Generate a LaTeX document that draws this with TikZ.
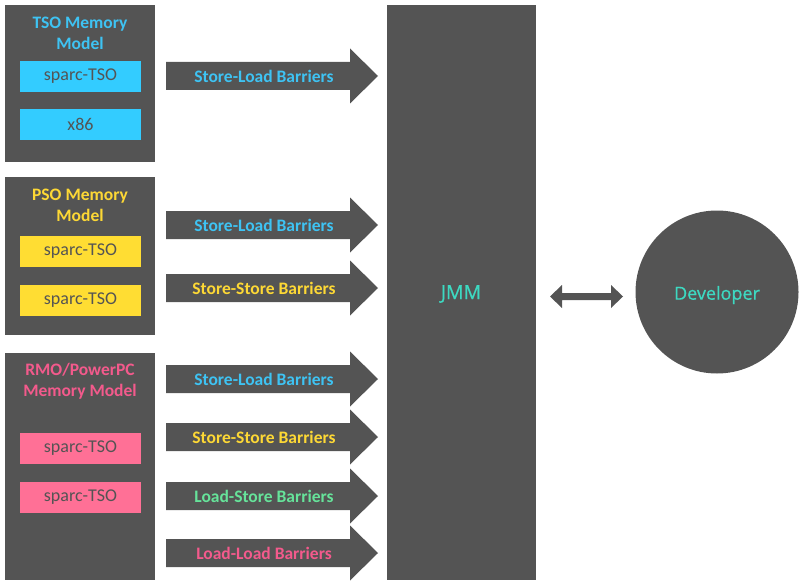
\documentclass[tikz,border=0pt]{standalone}
\usepackage{fontspec}
\usetikzlibrary{calc}
\setmainfont{Carlito}
\newfontfamily\devfont[FakeBold=0.7]{Open Sans}
\definecolor{dg}{HTML}{545454}
\definecolor{cyf}{HTML}{33CCFF}
\definecolor{cyt}{HTML}{3EC3F3}
\definecolor{yef}{HTML}{FFDD33}
\definecolor{yet}{HTML}{FDD835}
\definecolor{pif}{HTML}{FF7096}
\definecolor{pit}{HTML}{F35A8C}
\definecolor{grt}{HTML}{66E39A}
\definecolor{tlt}{HTML}{3DD9C1}
\tikzset{
  panel/.style={fill=dg,draw=none},
  chip/.style={minimum width=121pt,minimum height=31pt,inner sep=0pt,text=dg,font=\fontsize{18}{20}\selectfont},
  ttl/.style={align=center,font=\fontsize{17.5}{21}\selectfont\bfseries},
  blbl/.style={font=\fontsize{17.5}{20}\selectfont\bfseries,inner sep=0pt},
  devlbl/.style={font=\devfont\fontsize{18}{20}\selectfont,text=tlt},
}
\newcommand{\barrow}[4]{%
  \fill[dg] (166,#2-14) -- (350,#2-14) -- (350,#2-27.5) -- (378,#2) -- (350,#2+27.5) -- (350,#2+14) -- (166,#2+14) -- cycle;
  \node[blbl,text=#3] (#1) at (264,#2) {#4};}
\begin{document}
\begin{tikzpicture}[x=1pt,y=-1pt]
\useasboundingbox (0,0) rectangle (805,588);
% TSO
\fill[panel] (5,5) rectangle (155,162);
\node[ttl,text=cyt] (tsot) at (80,33) {TSO Memory\\Model};
\node[chip,fill=cyf] (tso1) at (80.5,76.5) {sparc-TSO};
\node[chip,fill=cyf] (tso2) at (80.5,124.5) {x86};
\barrow{a1}{76}{cyt}{Store-Load Barriers}
% PSO
\fill[panel] (5,177) rectangle (155,335);
\node[ttl,text=yet] (psot) at (80,205.5) {PSO Memory\\Model};
\node[chip,fill=yef] (pso1) at (80.5,251) {sparc-TSO};
\node[chip,fill=yef] (pso2) at (80.5,300) {sparc-TSO};
\barrow{a2}{225}{cyt}{Store-Load Barriers}
\barrow{a3}{288}{yet}{Store-Store Barriers}
% RMO
\fill[panel] (5,353) rectangle (155,580);
\node[ttl,text=pit] (rmot) at (80,381.5) {RMO/PowerPC\\Memory Model};
\node[chip,fill=pif] (rmo1) at (80.5,448.5) {sparc-TSO};
\node[chip,fill=pif] (rmo2) at (80.5,497.5) {sparc-TSO};
\barrow{a4}{379}{cyt}{Store-Load Barriers}
\barrow{a5}{437}{yet}{Store-Store Barriers}
\barrow{a6}{496}{grt}{Load-Store Barriers}
\barrow{a7}{553}{pit}{Load-Load Barriers}
% JMM
\node[fill=dg,minimum width=149pt,minimum height=575pt,inner sep=0pt] (jmm) at (461.5,292.5) {};
\node[devlbl,font=\devfont\fontsize{19.5}{21}\selectfont] (jmmt) at (461,294) {JMM};
% Developer
\node[circle,fill=dg,minimum size=163pt,inner sep=0pt] (dev) at (717,292) {};
\node[devlbl] (devt) at (717,295) {Developer};
% double arrow
\coordinate (dl) at (550,296.5);
\coordinate (dr) at (623,296.5);
\fill[dg] (dl) -- ++(12,-11.5) -- ++(0,8) -- ($(dr)+(-12,-3.5)$) -- ++(0,-8) -- (dr) -- ++(-12,11.5) -- ++(0,-8) -- ($(dl)+(12,3.5)$) -- ++(0,8) -- cycle;
\end{tikzpicture}
\end{document}
